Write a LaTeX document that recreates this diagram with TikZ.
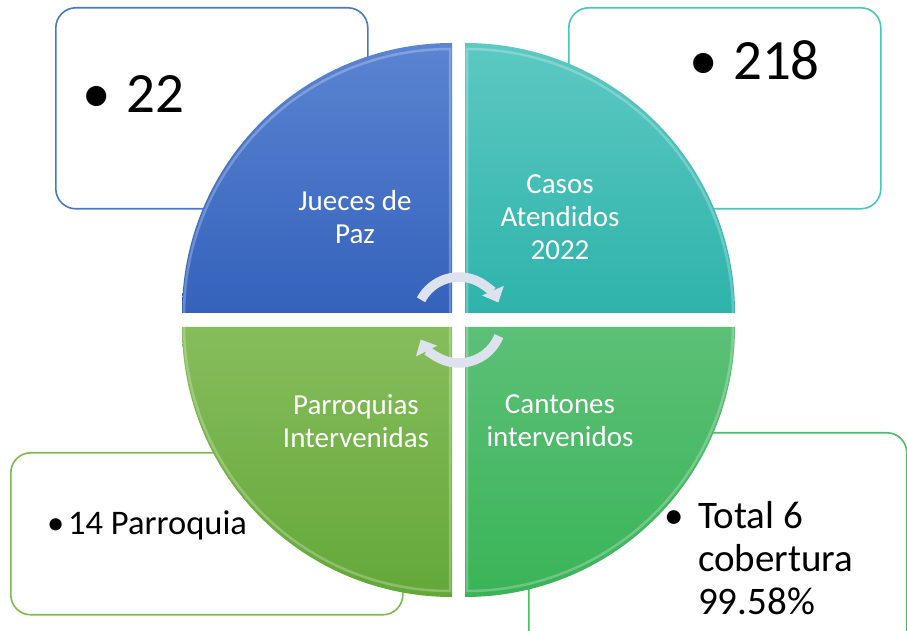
\documentclass[tikz,border=0pt]{standalone}
\usepackage{fontspec}
\setmainfont{Carlito}
\usetikzlibrary{arrows.meta}
\definecolor{boxblue}{HTML}{4A78C8}
\definecolor{boxteal}{HTML}{4DC4BC}
\definecolor{boxlgreen}{HTML}{7DBA4C}
\definecolor{boxgreen}{HTML}{4CBE68}
\definecolor{blueT}{HTML}{5B84D2}
\definecolor{blueB}{HTML}{3462BB}
\definecolor{tealT}{HTML}{5CC9C2}
\definecolor{tealB}{HTML}{2EB3AB}
\definecolor{greenT}{HTML}{5CC076}
\definecolor{greenB}{HTML}{3AB458}
\definecolor{lgreenT}{HTML}{86BD5B}
\definecolor{lgreenB}{HTML}{64A839}
\definecolor{arrowgray}{HTML}{DCE2EE}
\begin{document}
\begin{tikzpicture}[x=1pt,y=1pt,
  infobox/.style={rounded corners=20pt, line width=1.6pt, fill=white, inner sep=0pt},
  quadlabel/.style={text=white, align=center, inner sep=0pt, font=\fontsize{29}{33}\selectfont},
  bigitem/.style={anchor=base west, inner sep=0pt, font=\fontsize{57}{60}\selectfont},
  miditem/.style={anchor=base west, inner sep=0pt, font=\fontsize{34.5}{40}\selectfont},
  totitem/.style={anchor=north west, inner sep=0pt, align=left, font=\fontsize{39}{43}\selectfont},
  cyclearrow/.style={line width=9.5pt, draw=arrowgray, -{Triangle[width=23pt,length=13pt]}},
  bevel/.style={draw=white, draw opacity=0.25, line width=2.5pt}]
\useasboundingbox (0,0) rectangle (907,631);

% background boxes
\node[infobox, draw=boxblue, anchor=north west, minimum width=312pt, minimum height=201pt] (b1) at (55,624) {};
\node[infobox, draw=boxteal, anchor=north west, minimum width=312pt, minimum height=201pt] (b2) at (568,624) {};
\node[infobox, draw=boxlgreen, anchor=north west, minimum width=392pt, minimum height=162pt] (b3) at (10,179) {};
\begin{scope}
  \clip (0,0) rectangle (907,631);
  \node[infobox, draw=boxgreen, anchor=north west, minimum width=378pt, minimum height=240pt] (b4) at (528,199) {};
\end{scope}

% quadrants
\coordinate (q1) at (452,318);
\coordinate (q2) at (465,318);
\coordinate (q3) at (452,304);
\coordinate (q4) at (465,304);
\shade[top color=blueT, bottom color=blueB] (q1) -- ++(-270,0) arc[start angle=180, end angle=90, radius=270] -- cycle;
\shade[top color=tealT, bottom color=tealB] (q2) -- ++(0,270) arc[start angle=90, end angle=0, radius=270] -- cycle;
\shade[top color=lgreenT, bottom color=lgreenB] (q3) -- ++(-270,0) arc[start angle=180, end angle=270, radius=270] -- cycle;
\shade[top color=greenT, bottom color=greenB] (q4) -- ++(270,0) arc[start angle=0, end angle=-90, radius=270] -- cycle;
\draw[bevel] ([shift={(-2,-2)}]q1) -- ++(-266,0) arc[start angle=180, end angle=90, radius=266] -- cycle;
\draw[bevel] ([shift={(2,-2)}]q2) -- ++(0,266) arc[start angle=90, end angle=0, radius=266] -- cycle;
\draw[bevel] ([shift={(-2,2)}]q3) -- ++(-266,0) arc[start angle=180, end angle=270, radius=266] -- cycle;
\draw[bevel] ([shift={(2,2)}]q4) -- ++(266,0) arc[start angle=0, end angle=-90, radius=266] -- cycle;

% quadrant labels
\node[quadlabel] (l1) at (355,414) {Jueces de\\Paz};
\node[quadlabel] (l2) at (560,414) {Casos\\Atendidos\\2022};
\node[quadlabel] (l3) at (356,210) {Parroquias\\Intervenidas};
\node[quadlabel] (l4) at (560,210) {Cantones\\intervenidos};

% box texts
\node[bigitem] (t1) at (82,518) {\makebox[44pt][l]{•}22};
\node[bigitem] (t2) at (689,551) {\makebox[44pt][l]{•}218};
\node[miditem] (t3) at (47,96) {\makebox[21pt][l]{•}14 Parroquia};
\node[totitem] (t4) at (664,130) {\makebox[34pt][l]{•}Total 6\\\hspace*{34pt}cobertura\\\hspace*{34pt}99.58\%};

% cycle arrows
\coordinate (c) at (459,311);
\draw[cyclearrow] ([shift={(152:43)}]c) arc[start angle=152, end angle=24, radius=43];
\draw[cyclearrow] ([shift={(-22:43)}]c) arc[start angle=-22, end angle=-153, radius=43];
\end{tikzpicture}
\end{document}
